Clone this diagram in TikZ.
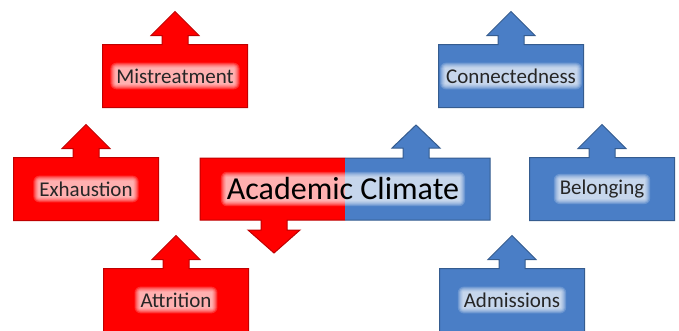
\documentclass[tikz,border=0pt]{standalone}
\usepackage{fontspec}
\setmainfont{Carlito}
\usepackage{tikz}
\definecolor{warmred}{HTML}{FF0000}
\definecolor{warmedge}{HTML}{C00000}
\definecolor{coolblue}{HTML}{4A7EC6}
\definecolor{cooledge}{HTML}{355C8F}
\tikzset{
  upbox/.style={line width=1pt, line join=miter},
  redbox/.style={upbox, fill=warmred, draw=warmedge},
  bluebox/.style={upbox, fill=coolblue, draw=cooledge},
  boxtext/.style={font=\fontsize{21}{25}\selectfont, text=black!85, inner sep=0pt},
  bigtext/.style={font=\fontsize{32}{38}\selectfont, text=black, inner sep=0pt},
  halo/.style={fill=white, fill opacity=0.18, text opacity=0, draw=none},
}
% box with an arrow on top: name, centre x, centre y, style, text
\newcommand{\arrowbox}[5]{
  \draw[#4] (#2-72.5,#3+31.5) -- ++(0,-63) -- ++(59.5,0) -- ++(0,-9) -- ++(-11,0)
    -- ++(24,-24) -- ++(24,24) -- ++(-11,0) -- ++(0,9) -- ++(59.5,0) -- ++(0,63) -- cycle;
  \foreach \g in {1,...,6}
    \node[boxtext, halo, inner sep=\g pt, rounded corners=\g pt] at (#2,#3) {#5};
  \node[boxtext] (#1) at (#2,#3) {#5};
}

\begin{document}
\begin{tikzpicture}[x=1pt,y=-1pt]

\useasboundingbox (0,0) rectangle (679,330);
\clip (0,0) rectangle (679,330);

\arrowbox{mistreat}{175}{76}{redbox}{Mistreatment}
\arrowbox{exhaust}{86}{189}{redbox}{Exhaustion}
\arrowbox{attrit}{176}{300}{redbox}{Attrition}
\arrowbox{connect}{511}{76}{bluebox}{Connectedness}
\arrowbox{belong}{602}{189}{bluebox}{Belonging}
\arrowbox{admit}{512}{300}{bluebox}{Admissions}

% centre box, half red half blue
\fill[warmred] (345,220) -- (287,220) -- (287,230) -- (300,230) -- (274,253) -- (248,230)
  -- (261,230) -- (261,220) -- (200,220) -- (200,158) -- (345,158) -- cycle;
\draw[upbox, draw=warmedge] (345,220) -- (287,220) -- (287,230) -- (300,230) -- (274,253)
  -- (248,230) -- (261,230) -- (261,220) -- (200,220) -- (200,158) -- (345,158);
\fill[coolblue] (345,158) -- (403,158) -- (403,148) -- (392,148) -- (416,125) -- (440,148)
  -- (429,148) -- (429,158) -- (490,158) -- (490,220) -- (345,220) -- cycle;
\draw[upbox, draw=cooledge] (345,158) -- (403,158) -- (403,148) -- (392,148) -- (416,125)
  -- (440,148) -- (429,148) -- (429,158) -- (490,158) -- (490,220) -- (345,220);
\foreach \g in {1,...,6}
  \node[bigtext, halo, inner sep=\g pt, rounded corners=\g pt] at (343,189) {Academic Climate};
\node[bigtext] (climate) at (343,189) {Academic Climate};

\end{tikzpicture}
\end{document}
